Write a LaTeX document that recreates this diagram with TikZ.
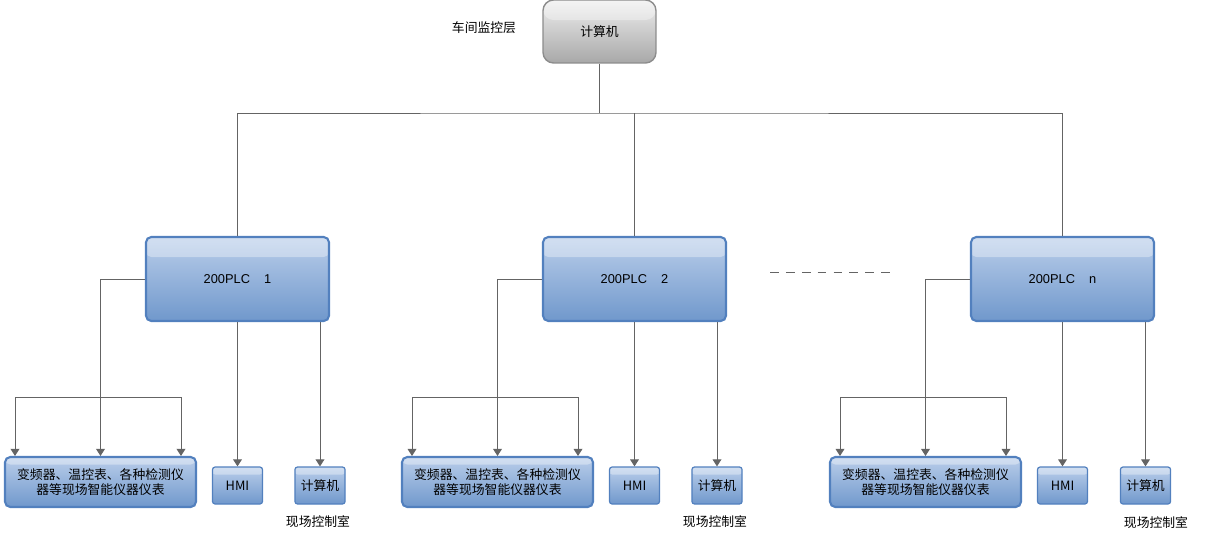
\documentclass[tikz,border=0pt]{standalone}
\usepackage{fontspec}
\setmainfont{Liberation Sans}
\newfontfamily\cjk{Noto Sans CJK SC}
\usetikzlibrary{arrows.meta,positioning,calc}
\definecolor{wiregray}{RGB}{100,100,100}
\definecolor{plctop}{RGB}{186,206,234}
\definecolor{plcbot}{RGB}{112,152,204}
\definecolor{plcedge}{RGB}{82,128,190}
\definecolor{pctop}{RGB}{238,238,238}
\definecolor{pcbot}{RGB}{168,168,168}
\definecolor{pcedge}{RGB}{140,140,140}
\tikzset{
  % glossy band along the top of a box
  gloss/.style={path picture={
      \fill[white, opacity=0.35] (path picture bounding box.north west)
        rectangle ([yshift=-#1]path picture bounding box.north east);}},
  % Central computer: grey glossy box
  pcbox/.style={draw=pcedge, rectangle, rounded corners=6pt, line width=0.8pt,
                top color=pctop, bottom color=pcbot,
                minimum width=2.26cm, minimum height=1.26cm,
                font=\cjk\fontsize{7.3}{9}\selectfont, gloss=4mm},
  % PLC station: blue glossy box
  plcbox/.style={draw=plcedge, rectangle, rounded corners=3pt, line width=1.2pt,
                 top color=plctop, bottom color=plcbot,
                 minimum width=3.66cm, minimum height=1.68cm,
                 font=\fontsize{7.3}{9}\selectfont, gloss=4mm},
  % Field devices / HMI / local computer
  fieldbox/.style={plcbox, minimum width=3.82cm, minimum height=1.0cm,
                   align=center, font=\cjk\fontsize{7.3}{8.6}\selectfont, gloss=1.5mm},
  smallbox/.style={plcbox, line width=0.7pt, rounded corners=1.5pt,
                   minimum width=1.0cm, minimum height=0.74cm,
                   font=\cjk\fontsize{7.3}{9}\selectfont, gloss=1.5mm},
  lbl/.style={font=\cjk\fontsize{7.3}{9}\selectfont, inner sep=1pt},
  % Connectors
  wire/.style={draw=wiregray, line width=0.5pt},
  arr/.style={wire, -{Triangle[width=5pt,length=4pt]}, color=wiregray},
  dashline/.style={wire, dash pattern=on 5pt off 4.04pt}
}
\begin{document}
\begin{tikzpicture}[x=0.02cm, y=-0.02cm]
\useasboundingbox (0,0) rectangle (1211,545);

% Workshop monitoring layer
\node[pcbox] (top) at (599.5,31.5) {计算机};
\node[lbl] (layer) at (484,28) {车间监控层};

% PLC stations
\node[plcbox] (plc1) at (237.5,279) {200PLC\hspace{1.1em}1};
\node[plcbox] (plc2) at (634.5,279) {200PLC\hspace{1.1em}2};
\node[plcbox] (plcn) at (1062.5,279) {200PLC\hspace{1.1em}n};

% Bus from the central computer
\coordinate (bus) at (599.5,113);
\draw[wire] (top.south) -- (bus);
\draw[wire] (plc1.north) |- (bus) -| (plcn.north);
\draw[wire] (plc2.north) -- (plc2.north |- bus);

% Omitted stations
\coordinate (dl) at (770,272);
\coordinate (dr) at (890,272);
\draw[dashline] (dl) -- (dr);

% Station 1
\node[fieldbox] (fd1) at (100.5,482) {变频器、温控表、各种检测仪\\器等现场智能仪器仪表};
\node[smallbox] (hmi1) at (237.5,485.5) {HMI};
\node[smallbox] (pc1) at (320,485.5) {计算机};
\node[lbl] (room1) at (318,522) {现场控制室};
\coordinate (fl1) at (15,397);
\coordinate (fr1) at (181,397);
\draw[arr] (plc1.west) -| (fd1.north);
\draw[wire] (fl1) -- (fr1);
\draw[arr] (fl1) -- (fl1 |- fd1.north);
\draw[arr] (fr1) -- (fr1 |- fd1.north);
\draw[arr] (plc1.south) -- (hmi1.north);
\draw[arr] (plc1.south -| pc1.north) -- (pc1.north);

% Station 2
\node[fieldbox] (fd2) at (497.5,482) {变频器、温控表、各种检测仪\\器等现场智能仪器仪表};
\node[smallbox] (hmi2) at (634.5,485.5) {HMI};
\node[smallbox] (pc2) at (717,485.5) {计算机};
\node[lbl] (room2) at (715,522) {现场控制室};
\coordinate (fl2) at (412,397);
\coordinate (fr2) at (578,397);
\draw[arr] (plc2.west) -| (fd2.north);
\draw[wire] (fl2) -- (fr2);
\draw[arr] (fl2) -- (fl2 |- fd2.north);
\draw[arr] (fr2) -- (fr2 |- fd2.north);
\draw[arr] (plc2.south) -- (hmi2.north);
\draw[arr] (plc2.south -| pc2.north) -- (pc2.north);

% Station n
\node[fieldbox] (fdn) at (925.5,482) {变频器、温控表、各种检测仪\\器等现场智能仪器仪表};
\node[smallbox] (hmin) at (1062.5,485.5) {HMI};
\node[smallbox] (pcn) at (1145.5,485.5) {计算机};
\node[lbl] (roomn) at (1156,523) {现场控制室};
\coordinate (fln) at (840,397);
\coordinate (frn) at (1006,397);
\draw[arr] (plcn.west) -| (fdn.north);
\draw[wire] (fln) -- (frn);
\draw[arr] (fln) -- (fln |- fdn.north);
\draw[arr] (frn) -- (frn |- fdn.north);
\draw[arr] (plcn.south) -- (hmin.north);
\draw[arr] (plcn.south -| pcn.north) -- (pcn.north);

\end{tikzpicture}
\end{document}
